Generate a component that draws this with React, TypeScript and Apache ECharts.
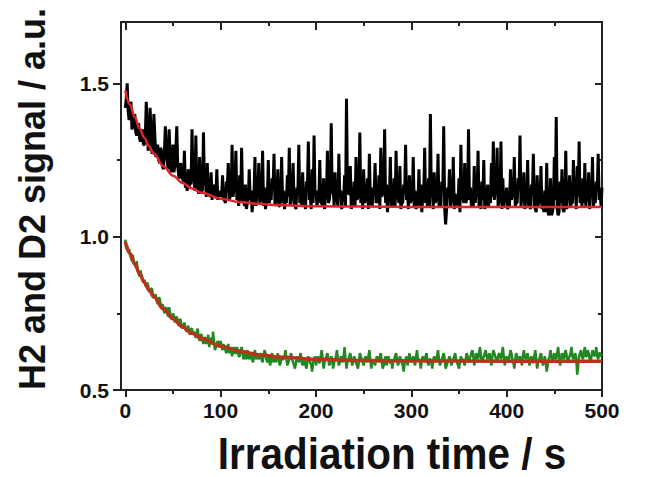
import React, { useEffect, useRef } from "react";
import * as echarts from "echarts";

// Sampling step of the measured traces (seconds)
const SAMPLE_STEP = 1;

// H2 signal (black), one value per second from 0 to 500 s (rows of 20 s)
const h2Signal: number[] = [
  1.42, 1.45, 1.50, 1.41, 1.38, 1.40, 1.44, 1.35, 1.36, 1.38, 1.40, 1.34, 1.33, 1.35, 1.37, 1.32, 1.31, 1.33, 1.35, 1.30,
  1.30, 1.33, 1.44, 1.36, 1.28, 1.31, 1.42, 1.34, 1.27, 1.29, 1.40, 1.33, 1.26, 1.27, 1.30, 1.25, 1.24, 1.29, 1.28, 1.23,
  1.22, 1.27, 1.36, 1.29, 1.25, 1.22, 1.35, 1.26, 1.21, 1.24, 1.30, 1.21, 1.23, 1.28, 1.36, 1.23, 1.20, 1.19, 1.24, 1.22,
  1.19, 1.18, 1.28, 1.16, 1.17, 1.15, 1.22, 1.16, 1.18, 1.17, 1.35, 1.18, 1.20, 1.15, 1.33, 1.16, 1.17, 1.14, 1.26, 1.14,
  1.15, 1.15, 1.34, 1.17, 1.19, 1.13, 1.24, 1.14, 1.14, 1.13, 1.21, 1.12, 1.17, 1.15, 1.13, 1.13, 1.22, 1.12, 1.15, 1.13,
  1.14, 1.13, 1.20, 1.12, 1.12, 1.11, 1.18, 1.16, 1.24, 1.12, 1.13, 1.14, 1.30, 1.13, 1.16, 1.17, 1.28, 1.12, 1.14, 1.10,
  1.20, 1.11, 1.29, 1.13, 1.12, 1.10, 1.17, 1.09, 1.11, 1.12, 1.22, 1.12, 1.15, 1.08, 1.12, 1.14, 1.26, 1.10, 1.14, 1.13,
  1.24, 1.11, 1.12, 1.14, 1.28, 1.10, 1.16, 1.09, 1.11, 1.12, 1.25, 1.11, 1.13, 1.12, 1.19, 1.16, 1.27, 1.10, 1.12, 1.12,
  1.22, 1.10, 1.10, 1.12, 1.26, 1.11, 1.15, 1.09, 1.12, 1.11, 1.20, 1.13, 1.29, 1.10, 1.13, 1.14, 1.24, 1.11, 1.10, 1.09,
  1.16, 1.14, 1.30, 1.11, 1.12, 1.10, 1.21, 1.12, 1.11, 1.09, 1.18, 1.15, 1.31, 1.12, 1.13, 1.09, 1.22, 1.11, 1.33, 1.13,
  1.15, 1.10, 1.12, 1.12, 1.25, 1.11, 1.11, 1.10, 1.19, 1.09, 1.14, 1.13, 1.28, 1.11, 1.12, 1.15, 1.37, 1.14, 1.16, 1.10,
  1.21, 1.12, 1.12, 1.10, 1.27, 1.13, 1.15, 1.09, 1.13, 1.12, 1.20, 1.10, 1.45, 1.16, 1.14, 1.14, 1.23, 1.09, 1.11, 1.11,
  1.18, 1.10, 1.26, 1.12, 1.13, 1.15, 1.34, 1.11, 1.15, 1.09, 1.22, 1.11, 1.12, 1.12, 1.19, 1.09, 1.27, 1.13, 1.11, 1.10,
  1.16, 1.14, 1.24, 1.11, 1.12, 1.11, 1.20, 1.09, 1.29, 1.13, 1.14, 1.15, 1.35, 1.11, 1.17, 1.08, 1.13, 1.12, 1.26, 1.10,
  1.12, 1.10, 1.19, 1.10, 1.28, 1.13, 1.13, 1.11, 1.23, 1.09, 1.11, 1.11, 1.17, 1.14, 1.30, 1.12, 1.14, 1.09, 1.20, 1.11,
  1.12, 1.12, 1.26, 1.10, 1.15, 1.09, 1.11, 1.11, 1.22, 1.10, 1.17, 1.08, 1.13, 1.13, 1.29, 1.11, 1.12, 1.10, 1.19, 1.10,
  1.40, 1.13, 1.15, 1.09, 1.21, 1.11, 1.12, 1.12, 1.27, 1.10, 1.13, 1.10, 1.18, 1.15, 1.36, 1.09, 1.04, 1.09, 1.16, 1.13,
  1.22, 1.10, 1.12, 1.12, 1.26, 1.09, 1.14, 1.11, 1.11, 1.10, 1.19, 1.08, 1.30, 1.12, 1.13, 1.11, 1.24, 1.11, 1.12, 1.14,
  1.35, 1.12, 1.16, 1.10, 1.11, 1.10, 1.23, 1.11, 1.14, 1.14, 1.28, 1.10, 1.12, 1.09, 1.18, 1.12, 1.25, 1.09, 1.11, 1.11,
  1.17, 1.10, 1.13, 1.11, 1.24, 1.13, 1.31, 1.12, 1.15, 1.15, 1.29, 1.10, 1.12, 1.11, 1.31, 1.09, 1.19, 1.10, 1.13, 1.12,
  1.16, 1.09, 1.10, 1.10, 1.22, 1.12, 1.14, 1.13, 1.26, 1.10, 1.11, 1.11, 1.19, 1.15, 1.33, 1.10, 1.13, 1.12, 1.21, 1.09,
  1.12, 1.11, 1.25, 1.10, 1.10, 1.09, 1.17, 1.14, 1.27, 1.10, 1.09, 1.08, 1.20, 1.10, 1.12, 1.11, 1.23, 1.09, 1.10, 1.08,
  1.15, 1.08, 1.24, 1.09, 1.07, 1.08, 1.19, 1.07, 1.08, 1.10, 1.26, 1.12, 1.39, 1.09, 1.07, 1.08, 1.18, 1.11, 1.22, 1.09,
  1.08, 1.10, 1.28, 1.09, 1.14, 1.12, 1.20, 1.10, 1.11, 1.11, 1.25, 1.14, 1.16, 1.09, 1.23, 1.13, 1.31, 1.11, 1.12, 1.10,
  1.19, 1.11, 1.24, 1.10, 1.13, 1.12, 1.21, 1.09, 1.15, 1.13, 1.26, 1.10, 1.12, 1.11, 1.18, 1.15, 1.27, 1.12, 1.14, 1.10,
  1.16,
];

// D2 signal (green), one value per second from 0 to 500 s (rows of 20 s)
const d2Signal: number[] = [
  0.99, 0.96, 0.97, 0.95, 0.96, 0.94, 0.93, 0.92, 0.94, 0.91, 0.91, 0.90, 0.92, 0.89, 0.88, 0.87, 0.89, 0.87, 0.86, 0.85,
  0.86, 0.84, 0.84, 0.85, 0.84, 0.82, 0.82, 0.83, 0.83, 0.81, 0.80, 0.81, 0.81, 0.79, 0.78, 0.80, 0.80, 0.78, 0.77, 0.78,
  0.77, 0.75, 0.76, 0.77, 0.75, 0.74, 0.77, 0.75, 0.74, 0.73, 0.75, 0.74, 0.72, 0.73, 0.74, 0.72, 0.71, 0.73, 0.73, 0.71,
  0.70, 0.71, 0.72, 0.70, 0.69, 0.70, 0.71, 0.69, 0.68, 0.70, 0.70, 0.68, 0.69, 0.68, 0.67, 0.69, 0.70, 0.67, 0.66, 0.68,
  0.68, 0.66, 0.65, 0.67, 0.67, 0.65, 0.66, 0.68, 0.64, 0.66, 0.67, 0.65, 0.69, 0.66, 0.63, 0.64, 0.65, 0.66, 0.64, 0.65,
  0.66, 0.64, 0.63, 0.65, 0.64, 0.63, 0.62, 0.64, 0.65, 0.62, 0.63, 0.64, 0.61, 0.63, 0.64, 0.62, 0.62, 0.64, 0.63, 0.61,
  0.61, 0.63, 0.64, 0.62, 0.60, 0.61, 0.62, 0.60, 0.63, 0.62, 0.60, 0.61, 0.62, 0.60, 0.59, 0.62, 0.63, 0.60, 0.61, 0.62,
  0.60, 0.61, 0.62, 0.60, 0.59, 0.61, 0.63, 0.62, 0.60, 0.59, 0.61, 0.60, 0.58, 0.61, 0.62, 0.59, 0.60, 0.61, 0.59, 0.60,
  0.62, 0.60, 0.58, 0.59, 0.61, 0.60, 0.60, 0.61, 0.63, 0.60, 0.58, 0.59, 0.60, 0.61, 0.62, 0.60, 0.59, 0.58, 0.57, 0.59,
  0.61, 0.60, 0.59, 0.61, 0.62, 0.59, 0.58, 0.60, 0.60, 0.58, 0.57, 0.59, 0.61, 0.60, 0.59, 0.58, 0.56, 0.59, 0.60, 0.61,
  0.58, 0.60, 0.61, 0.59, 0.59, 0.61, 0.63, 0.60, 0.57, 0.59, 0.60, 0.61, 0.62, 0.60, 0.58, 0.59, 0.61, 0.60, 0.57, 0.59,
  0.60, 0.61, 0.63, 0.60, 0.58, 0.59, 0.61, 0.60, 0.59, 0.61, 0.64, 0.60, 0.57, 0.59, 0.60, 0.61, 0.62, 0.60, 0.58, 0.59,
  0.61, 0.60, 0.59, 0.58, 0.57, 0.59, 0.62, 0.61, 0.60, 0.59, 0.58, 0.60, 0.61, 0.60, 0.59, 0.61, 0.63, 0.60, 0.57, 0.59,
  0.60, 0.59, 0.58, 0.60, 0.61, 0.60, 0.59, 0.61, 0.62, 0.59, 0.57, 0.58, 0.60, 0.61, 0.58, 0.60, 0.61, 0.59, 0.59, 0.60,
  0.57, 0.59, 0.60, 0.61, 0.62, 0.60, 0.58, 0.59, 0.61, 0.60, 0.59, 0.58, 0.56, 0.59, 0.60, 0.61, 0.58, 0.60, 0.62, 0.60,
  0.59, 0.60, 0.61, 0.59, 0.58, 0.61, 0.63, 0.60, 0.60, 0.59, 0.57, 0.60, 0.61, 0.60, 0.59, 0.61, 0.62, 0.59, 0.58, 0.60,
  0.60, 0.59, 0.57, 0.60, 0.61, 0.60, 0.59, 0.61, 0.63, 0.60, 0.58, 0.59, 0.60, 0.61, 0.62, 0.60, 0.57, 0.58, 0.59, 0.60,
  0.61, 0.60, 0.58, 0.59, 0.60, 0.61, 0.62, 0.60, 0.59, 0.58, 0.57, 0.59, 0.61, 0.60, 0.60, 0.59, 0.58, 0.60, 0.62, 0.61,
  0.59, 0.60, 0.61, 0.62, 0.63, 0.61, 0.58, 0.60, 0.62, 0.61, 0.60, 0.62, 0.64, 0.61, 0.59, 0.60, 0.61, 0.62, 0.63, 0.61,
  0.60, 0.61, 0.62, 0.60, 0.58, 0.61, 0.63, 0.62, 0.61, 0.60, 0.59, 0.61, 0.62, 0.61, 0.60, 0.62, 0.64, 0.61, 0.58, 0.60,
  0.61, 0.60, 0.59, 0.61, 0.63, 0.62, 0.60, 0.59, 0.57, 0.60, 0.62, 0.61, 0.59, 0.60, 0.61, 0.60, 0.58, 0.61, 0.63, 0.61,
  0.60, 0.61, 0.62, 0.60, 0.58, 0.60, 0.61, 0.59, 0.59, 0.61, 0.63, 0.60, 0.57, 0.59, 0.60, 0.61, 0.62, 0.60, 0.58, 0.59,
  0.61, 0.59, 0.56, 0.58, 0.60, 0.61, 0.63, 0.61, 0.59, 0.60, 0.62, 0.61, 0.60, 0.62, 0.64, 0.61, 0.58, 0.60, 0.62, 0.61,
  0.60, 0.62, 0.63, 0.61, 0.59, 0.60, 0.61, 0.62, 0.64, 0.61, 0.60, 0.61, 0.62, 0.60, 0.55, 0.58, 0.61, 0.62, 0.63, 0.61,
  0.60, 0.62, 0.64, 0.61, 0.61, 0.63, 0.62, 0.60, 0.59, 0.61, 0.63, 0.62, 0.61, 0.62, 0.64, 0.61, 0.60, 0.62, 0.62, 0.61,
  0.61,
];

// Fitted curves (red), read at these times
const fitTimes: number[] = [0, 5, 10, 15, 20, 25, 30, 40, 50, 60, 70, 80, 100, 120, 140, 160, 200, 250, 300, 400, 500];
const h2Fit: number[] = [1.477, 1.430, 1.389, 1.353, 1.322, 1.294, 1.270, 1.230, 1.199, 1.175, 1.157, 1.143, 1.124, 1.113, 1.107, 1.103, 1.099, 1.098, 1.097, 1.097, 1.097];
const d2Fit: number[] = [0.984, 0.945, 0.911, 0.879, 0.851, 0.826, 0.803, 0.764, 0.732, 0.706, 0.685, 0.668, 0.643, 0.626, 0.615, 0.608, 0.600, 0.596, 0.595, 0.594, 0.594];

// Axis ticks
const xMajorTicks: number[] = [0, 100, 200, 300, 400, 500];
const xMinorTicks: number[] = [50, 150, 250, 350, 450];
const yMajorTicks: number[] = [0.5, 1.0, 1.5];
const yMinorTicks: number[] = [0.75, 1.25];

const X_MIN = -4.5;
const X_MAX = 500;
const Y_MIN = 0.5;
const Y_MAX = 1.7;

const FONT = '"Liberation Sans", Arial, Helvetica, sans-serif';
const AXIS_COLOR = "#222";

export default function App() {
  const ref = useRef<HTMLDivElement>(null);

  useEffect(() => {
    if (!ref.current) return;
    const chart = echarts.init(ref.current, undefined, { renderer: "svg" });

    const pairs = (vals: number[]) => vals.map((v, i) => [i * SAMPLE_STEP, v]);
    const fitPairs = (vals: number[]) => vals.map((v, i) => [fitTimes[i], v]);

    const xAxisBase = (position: "top" | "bottom", ticks: number[], len: number, inside: boolean, showLine: boolean, showLabel: boolean) => ({
      type: "value",
      min: X_MIN,
      max: X_MAX,
      position,
      axisLine: { show: showLine, onZero: false, lineStyle: { color: AXIS_COLOR, width: 2 } },
      axisTick: { show: true, inside, length: len, customValues: ticks, lineStyle: { color: AXIS_COLOR, width: 2 } },
      axisLabel: showLabel
        ? { show: true, customValues: ticks, fontSize: 21, fontWeight: "bold", color: "#111", fontFamily: FONT, margin: 10 }
        : { show: false },
      splitLine: { show: false },
    });

    const yAxisBase = (position: "left" | "right", ticks: number[], len: number, inside: boolean, showLine: boolean, showLabel: boolean) => ({
      type: "value",
      min: Y_MIN,
      max: Y_MAX,
      position,
      axisLine: { show: showLine, onZero: false, lineStyle: { color: AXIS_COLOR, width: 2 } },
      axisTick: { show: true, inside, length: len, customValues: ticks, lineStyle: { color: AXIS_COLOR, width: 2 } },
      axisLabel: showLabel
        ? {
            show: true,
            customValues: ticks,
            fontSize: 21,
            fontWeight: "bold",
            color: "#111",
            fontFamily: FONT,
            margin: 12,
            formatter: (v: number) => v.toFixed(1),
          }
        : { show: false },
      splitLine: { show: false },
    });

    chart.setOption({
      animation: false,
      backgroundColor: "#fff",
      grid: { left: 121, right: 45, top: 22, bottom: 87, containLabel: false, outerBoundsMode: "none" },
      xAxis: [
        xAxisBase("bottom", xMajorTicks, 7, false, true, true),
        xAxisBase("bottom", xMinorTicks, 4, false, false, false),
        xAxisBase("top", xMajorTicks, 8, true, true, false),
        xAxisBase("top", xMinorTicks, 4, true, false, false),
      ],
      yAxis: [
        yAxisBase("left", yMajorTicks, 8, false, true, true),
        yAxisBase("left", yMinorTicks, 4, false, false, false),
        yAxisBase("right", yMajorTicks, 7, true, true, false),
        yAxisBase("right", yMinorTicks, 4, true, false, false),
      ],
      series: [
        {
          name: "H2",
          type: "line",
          data: pairs(h2Signal),
          showSymbol: false,
          lineStyle: { color: "#000", width: 3 },
          xAxisIndex: 0,
          yAxisIndex: 0,
          z: 2,
        },
        {
          name: "H2 fit",
          type: "line",
          data: fitPairs(h2Fit),
          showSymbol: false,
          smooth: 0.4,
          smoothMonotone: "x",
          lineStyle: { color: "#e0242a", width: 2.5 },
          xAxisIndex: 0,
          yAxisIndex: 0,
          z: 3,
        },
        {
          name: "D2",
          type: "line",
          data: pairs(d2Signal),
          showSymbol: false,
          lineStyle: { color: "#1f8a22", width: 2.5 },
          xAxisIndex: 0,
          yAxisIndex: 0,
          z: 2,
        },
        {
          name: "D2 fit",
          type: "line",
          data: fitPairs(d2Fit),
          showSymbol: false,
          smooth: 0.4,
          smoothMonotone: "x",
          lineStyle: { color: "#b8321c", width: 3.5 },
          xAxisIndex: 0,
          yAxisIndex: 0,
          z: 3,
        },
      ],
      graphic: [
        {
          type: "text",
          x: 392,
          y: 454,
          scaleX: 0.92,
          style: {
            text: "Irradiation time / s",
            font: `bold 44px ${FONT}`,
            fill: "#111",
            align: "center",
            verticalAlign: "middle",
            textAlign: "center",
            textVerticalAlign: "middle",
          },
        },
        {
          type: "text",
          x: 32,
          y: 199,
          rotation: Math.PI / 2,
          style: {
            text: "H2 and D2 signal / a.u.",
            font: `bold 36px ${FONT}`,
            fill: "#111",
            align: "center",
            verticalAlign: "middle",
            textAlign: "center",
            textVerticalAlign: "middle",
          },
        },
      ],
    });

    return () => chart.dispose();
  }, []);

  return (
    <div
      ref={ref}
      style={{ position: "fixed", left: 0, top: 0, width: 647, height: 477, background: "#fff" }}
    />
  );
}
